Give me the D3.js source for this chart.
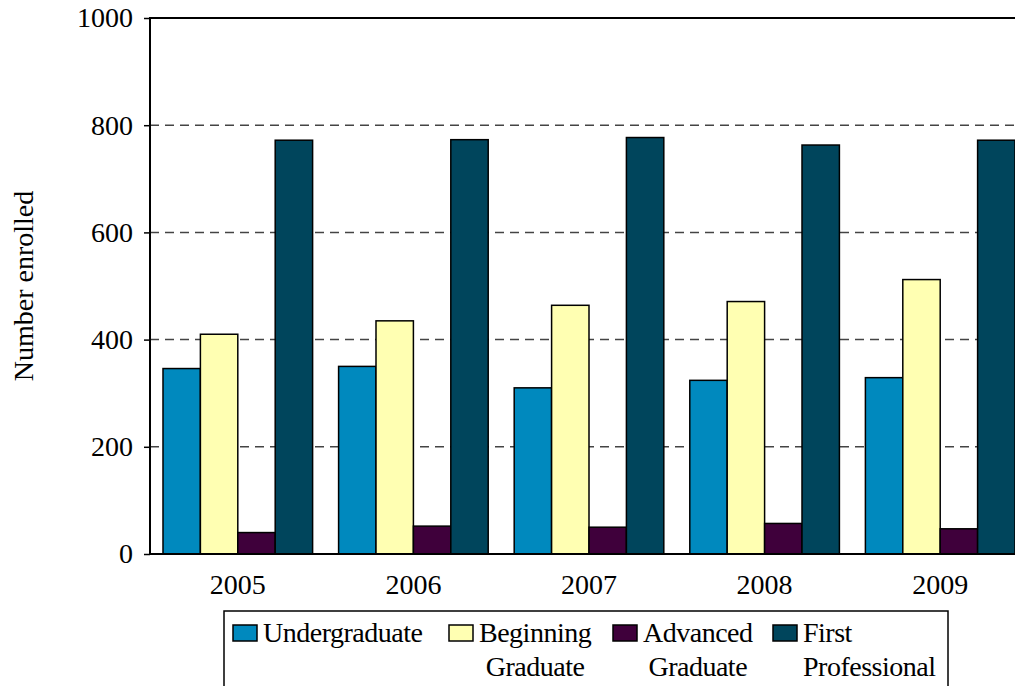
<!DOCTYPE html>
<html>
<head>
<meta charset="utf-8">
<script src="https://cdn.jsdelivr.net/npm/d3@7"></script>
<style>
  body { margin: 0; background: #fff; }
  text { font-family: "Liberation Serif", "Times New Roman", serif; fill: #000; }
</style>
</head>
<body>
<div id="chart"></div>
<script>
// data
const years = ["2005", "2006", "2007", "2008", "2009"];
const seriesNames = ["Undergraduate", "Beginning Graduate", "Advanced Graduate", "First Professional"];
const undergraduate = [346, 350, 310, 324, 329];
const beginningGraduate = [410, 435, 464, 471, 512];
const advancedGraduate = [40, 52, 50, 57, 47];
const firstProfessional = [772, 773, 777, 763, 772];
const yTicks = [0, 200, 400, 600, 800, 1000];

const seriesValues = [undergraduate, beginningGraduate, advancedGraduate, firstProfessional];
const colors = ["#0089BE", "#FFFFB2", "#3F003B", "#00455C"];

// layout
const width = 1015, height = 686;
const plot = { left: 150, top: 18, right: 1028, bottom: 554 };
const fontSize = 28;

const svg = d3.select("#chart")
  .append("svg")
  .attr("width", width)
  .attr("height", height);

const x = d3.scaleBand()
  .domain(years)
  .range([plot.left, plot.right])
  .paddingInner(0.148)
  .paddingOuter(0.074);

const x1 = d3.scaleBand()
  .domain(seriesNames)
  .range([0, x.bandwidth()]);

const y = d3.scaleLinear()
  .domain([0, 1000])
  .range([plot.bottom, plot.top]);

// dashed gridlines
svg.append("g")
  .selectAll("line")
  .data(yTicks.filter(d => d > 0 && d < 1000))
  .enter().append("line")
  .attr("x1", plot.left)
  .attr("x2", plot.right)
  .attr("y1", d => y(d))
  .attr("y2", d => y(d))
  .attr("stroke", "#444")
  .attr("stroke-width", 1.5)
  .attr("stroke-dasharray", "9,6");

// bars
const rows = years.map((yr, i) => ({
  year: yr,
  values: seriesNames.map((s, j) => ({ key: s, value: seriesValues[j][i], color: colors[j] }))
}));

svg.append("g")
  .selectAll("g")
  .data(rows)
  .enter().append("g")
  .attr("transform", d => "translate(" + x(d.year) + ",0)")
  .selectAll("rect")
  .data(d => d.values)
  .enter().append("rect")
  .attr("x", d => x1(d.key))
  .attr("y", d => y(d.value))
  .attr("width", x1.bandwidth())
  .attr("height", d => y(0) - y(d.value))
  .attr("fill", d => d.color)
  .attr("stroke", "#000")
  .attr("stroke-width", 1.5);

// plot frame
svg.append("rect")
  .attr("x", plot.left)
  .attr("y", plot.top)
  .attr("width", plot.right - plot.left)
  .attr("height", plot.bottom - plot.top)
  .attr("fill", "none")
  .attr("stroke", "#000")
  .attr("stroke-width", 2);

// y axis
const yAxis = svg.append("g")
  .attr("transform", "translate(" + plot.left + ",0)")
  .call(d3.axisLeft(y).tickValues(yTicks).tickFormat(d3.format("d")).tickSize(6).tickPadding(11));
yAxis.select(".domain").remove();
yAxis.selectAll("line").attr("stroke", "#000").attr("stroke-width", 1.5);
yAxis.selectAll("text")
  .style("font-family", "'Liberation Serif', 'Times New Roman', serif")
  .style("font-size", fontSize + "px");

// x axis
const xAxis = svg.append("g")
  .attr("transform", "translate(0," + plot.bottom + ")")
  .call(d3.axisBottom(x).tickSize(0).tickPadding(20));
xAxis.select(".domain").remove();
xAxis.selectAll("text")
  .style("font-family", "'Liberation Serif', 'Times New Roman', serif")
  .style("font-size", fontSize + "px");

// y axis title
svg.append("text")
  .attr("transform", "translate(33," + ((plot.top + plot.bottom) / 2) + ") rotate(-90)")
  .attr("text-anchor", "middle")
  .style("font-size", fontSize + "px")
  .text("Number enrolled");

// legend
const legend = svg.append("g");
legend.append("rect")
  .attr("x", 224)
  .attr("y", 611)
  .attr("width", 724)
  .attr("height", 110)
  .attr("fill", "#fff")
  .attr("stroke", "#000")
  .attr("stroke-width", 1.5);

const legendX = [233, 449, 613, 773];
const legendLines = [["Undergraduate"], ["Beginning", "Graduate"], ["Advanced", "Graduate"], ["First", "Professional"]];

legendLines.forEach((lines, i) => {
  const g = legend.append("g").attr("transform", "translate(" + legendX[i] + ",0)");
  g.append("rect")
    .attr("x", 0)
    .attr("y", 625)
    .attr("width", 24)
    .attr("height", 16)
    .attr("fill", colors[i])
    .attr("stroke", "#000")
    .attr("stroke-width", 1.5);
  const t1 = g.append("text")
    .attr("x", 30)
    .attr("y", 642)
    .style("font-size", fontSize + "px")
    .style("letter-spacing", "-0.5px")
    .text(lines[0]);
  if (lines[1]) {
    const t2 = g.append("text")
      .attr("y", 676)
      .style("font-size", fontSize + "px")
      .style("letter-spacing", "-0.5px")
      .text(lines[1]);
    const w1 = t1.node().getComputedTextLength();
    const w2 = t2.node().getComputedTextLength();
    t2.attr("x", 30 + Math.max(0, (w1 - w2) / 2));
  }
});
</script>
</body>
</html>
